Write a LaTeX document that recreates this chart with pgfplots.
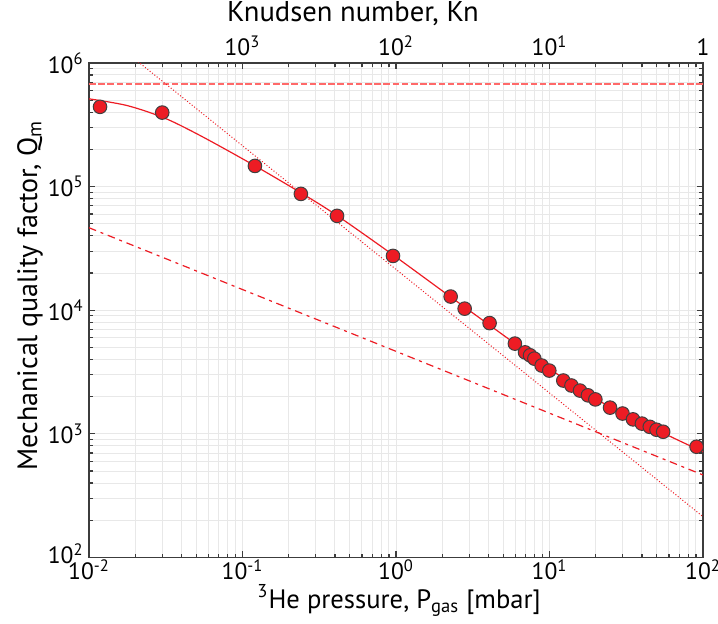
\documentclass[border=0pt]{standalone}
\usepackage{fontspec}
\setmainfont{PT Sans}
\usepackage{pgfplots}
\pgfplotsset{compat=1.18}
\definecolor{myred}{RGB}{237,28,36}
\definecolor{dashred}{RGB}{255,105,105}
\definecolor{gridc}{RGB}{232,232,232}
\definecolor{axc}{RGB}{60,60,60}
\begin{document}
\begin{tikzpicture}
\path[use as bounding box] (-44.5pt,-33.25pt) rectangle (314.5pt,278.75pt);
\begin{axis}[
  scale only axis, width=307pt, height=247.25pt,
  xmode=log, ymode=log, xmin=0.01, xmax=100, ymin=100, ymax=1e6,
  xtick={0.01,0.1,1,10,100},
  xticklabels={10\textsuperscript{-2},10\textsuperscript{-1},10\textsuperscript{0},10\textsuperscript{1},10\textsuperscript{2}},
  ytick={100,1000,10000,100000,1000000},
  yticklabels={\raisebox{4pt}{10\textsuperscript{2}},10\textsuperscript{3},10\textsuperscript{4},10\textsuperscript{5},\raisebox{-2pt}{10\textsuperscript{6}}},
  minor xtick={0.02,0.03,0.04,0.05,0.06,0.07,0.08,0.09,0.2,0.3,0.4,0.5,0.6,0.7,0.8,0.9,2,3,4,5,6,7,8,9,20,30,40,50,60,70,80,90},
  minor ytick={200,300,400,500,600,700,800,900,2000,3000,4000,5000,6000,7000,8000,9000,20000,30000,40000,50000,60000,70000,80000,90000,200000,300000,400000,500000,600000,700000,800000,900000},
  grid=both,
  major grid style={gridc, line width=0.5pt},
  minor grid style={gridc, line width=0.5pt},
  axis line style={axc, line width=0.8pt},
  major tick length=3.2pt, minor tick length=1.8pt,
  every tick/.style={axc, line width=0.6pt},
  ticklabel style={font=\fontsize{11.8}{14}\selectfont, inner sep=1pt},
  xticklabel style={anchor=base, yshift=-11.25pt},
  yticklabel style={xshift=-1.5pt},
  xlabel={\textsuperscript{3}He pressure, P\textsubscript{gas} [mbar]},
  xlabel style={font=\fontsize{13.3}{16}\selectfont, at={(axis description cs:0.505,-0.103)}, anchor=base},
  ylabel={Mechanical quality factor, Q\textsubscript{m}},
  ylabel style={font=\fontsize{14}{16}\selectfont, at={(axis description cs:-0.096,0.53)}, anchor=center, rotate=0},
  clip=true,
]
% dashed horizontal
\addplot[dashred, line width=0.9pt, dash pattern=on 3.3pt off 1.3pt] coordinates {(0.01,6.78e5) (100,6.78e5)};
% dotted 1/P
\addplot[myred, line width=0.5pt, dash pattern=on 0.5pt off 1pt] coordinates {(0.01,2.14e6) (100,214)};
% dash-dot P^-1/2
\addplot[myred, line width=0.6pt, dash pattern=on 3.8pt off 2.4pt on 1.5pt off 2.4pt] coordinates {(0.01,4.65e4) (100,465)};
% solid fit
\addplot[myred, line width=0.6pt, smooth] coordinates {
(0.01,5.13e5) (0.01778,4.52e5) (0.0313,3.57e5) (0.0552,2.52e5) (0.1197,1.48e5)
(0.240,8.91e4) (0.405,5.93e4) (0.946,2.83e4) (2.28,1.276e4) (5.96,5370)
(10,3350) (24.9,1641) (61,955) (100,716)};
% data
\addplot[only marks, mark=*, mark size=3.4pt, mark options={draw=black!75, fill=myred, line width=0.5pt}] coordinates {
(0.0118,4.42e5) (0.030,3.97e5) (0.1205,1.47e5) (0.240,8.73e4) (0.413,5.80e4)
(0.956,2.75e4) (2.27,1.29e4) (2.80,1.03e4) (4.07,7870) (5.95,5370)
(6.93,4560) (7.47,4320) (7.97,4060) (8.89,3570) (9.97,3250)
(12.3,2700) (13.9,2460) (15.8,2240) (17.8,2050) (19.9,1900)
(24.8,1630) (29.9,1460) (35.0,1310) (40.0,1210) (45.0,1140)
(49.8,1080) (55.0,1040) (90.8,787)};
\end{axis}
\begin{axis}[
  scale only axis, width=307pt, height=247.25pt,
  xmode=log, ymode=log, xmin=0.01, xmax=100, ymin=100, ymax=1e6,
  axis x line*=top, hide y axis,
  axis line style={draw=none},
  xtick={0.1,1,10,100},
  xticklabels={10\textsuperscript{3},10\textsuperscript{2},10\textsuperscript{1},1},
  minor xtick={},
  xtick style={draw=none},
  ticklabel style={font=\fontsize{11.8}{14}\selectfont, inner sep=1pt},
  xticklabel style={anchor=base, yshift=3.5pt},
  xlabel={Knudsen number, Kn},
  xlabel style={font=\fontsize{14.3}{16}\selectfont, at={(axis description cs:0.43,1.083)}, anchor=base},
]
\addplot[draw=none] coordinates {(1,1000)};
\end{axis}
\end{tikzpicture}
\end{document}
